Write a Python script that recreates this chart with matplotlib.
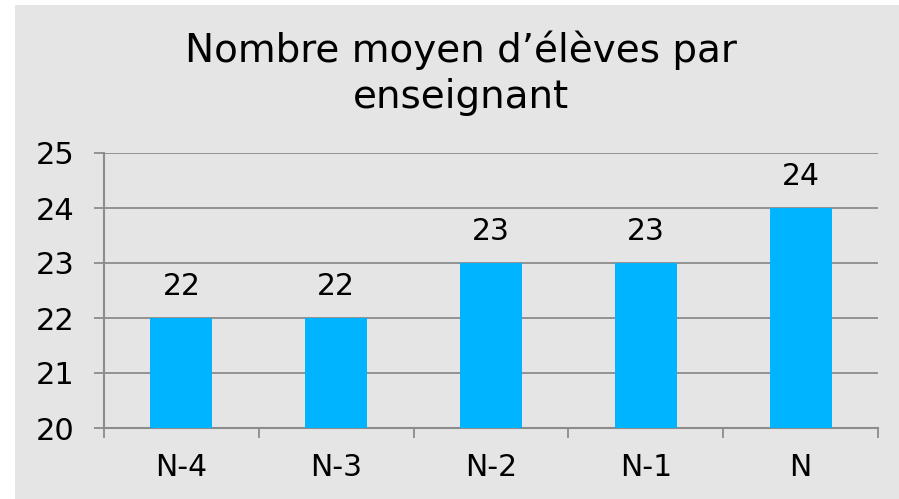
import matplotlib
matplotlib.use("Agg")
import matplotlib.pyplot as plt
from matplotlib.patches import Rectangle

categories = ["N-4", "N-3", "N-2", "N-1", "N"]
values = [22, 22, 23, 23, 24]
labels = ["22", "22", "23", "23", "24"]
yticks = [20, 21, 22, 23, 24, 25]

plt.rcParams['font.family'] = ['DejaVu Sans']

W, H = 899, 499
fig = plt.figure(figsize=(W/100, H/100), dpi=100)
fig.patch.set_facecolor('white')
bg = Rectangle((15/W, 0), 1 - 15/W, 494/H, transform=fig.transFigure,
               facecolor='#e5e5e5', edgecolor='none', zorder=-10)
fig.patches.append(bg)

ax = fig.add_axes([104/W, 1 - 428/H, (878-104)/W, (428-153)/H])
ax.set_facecolor('none')
x = list(range(len(categories)))
ax.bar(x, [v - 20 for v in values], bottom=20, width=0.4, color='#00b4ff', zorder=3)
ax.set_xlim(-0.5, len(categories) - 0.5)
ax.set_ylim(20, 25)
ax.set_yticks(yticks)
ax.set_yticklabels([str(t) for t in yticks], fontsize=22)
ax.yaxis.grid(True, color='#8c8c8c', linewidth=1.3)
ax.set_axisbelow(True)
for s in ['top', 'right']:
    ax.spines[s].set_visible(False)
for s in ['left', 'bottom']:
    ax.spines[s].set_color('#8c8c8c')
    ax.spines[s].set_linewidth(1.5)
ax.tick_params(axis='y', length=7, width=1.3, color='#8c8c8c', pad=14, labelcolor='black')
ax.set_xticks([i - 0.5 for i in range(len(categories) + 1)])
ax.set_xticklabels([])
ax.set_xticks(x, minor=True)
ax.set_xticklabels(categories, minor=True, fontsize=21.5)
ax.tick_params(axis='x', which='major', length=7, width=1.3, color='#8c8c8c')
ax.tick_params(axis='x', which='minor', length=0, pad=18, labelcolor='black')

for xi, v, lab in zip(x, values, labels):
    ax.annotate(lab, (xi, v), xytext=(0, 12), textcoords='offset points',
                ha='center', va='bottom', fontsize=21.5, color='black')

fig.text(461/W, 1 - 50/H, "Nombre moyen d’élèves par", ha='center', va='center', fontsize=28)
fig.text(461/W, 1 - 97/H, "enseignant", ha='center', va='center', fontsize=28)

fig.savefig("out.png", dpi=100)
